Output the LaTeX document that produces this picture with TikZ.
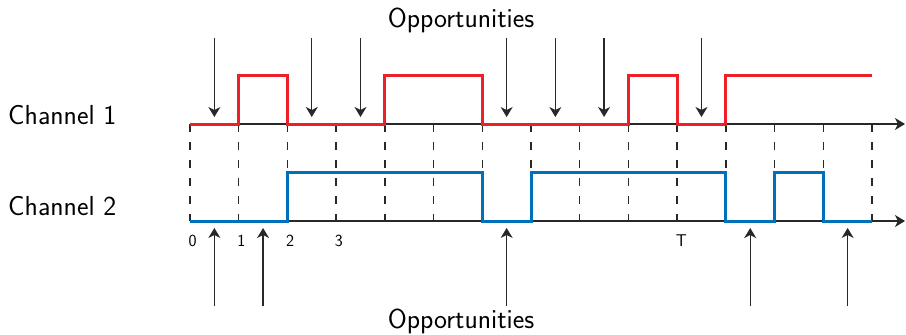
\documentclass[tikz,border=0pt]{standalone}
\usepackage{fontspec}
\usetikzlibrary{arrows.meta,calc}
\definecolor{sigred}{RGB}{237,32,40}
\definecolor{sigblue}{RGB}{0,112,186}
\definecolor{arrowgray}{RGB}{40,40,40}
\tikzset{
  axisline/.style={line width=1.3pt, draw=arrowgray, -{Stealth[length=10pt,width=12pt,inset=3pt]}},
  gridline/.style={line width=1.4pt, draw=arrowgray, dash pattern=on 8pt off 10pt},
  sigone/.style={line width=3pt, draw=sigred},
  sigtwo/.style={line width=3pt, draw=sigblue},
  opparrow/.style={line width=1.3pt, draw=arrowgray, -{Stealth[length=10pt,width=12pt,inset=3pt]}},
  bigtext/.style={font=\sffamily\fontsize{27.5}{33}\selectfont, inner sep=0pt},
  ticktext/.style={font=\sffamily\fontsize{17}{20}\selectfont, inner sep=0pt, anchor=base west},
}
\begin{document}
\begin{tikzpicture}[x=1pt,y=-1pt]
  \useasboundingbox (0,0) rectangle (906,335);
  \def\u{48.714}
  % tick positions on both axes
  \foreach \i in {0,...,14} {
    \coordinate (a\i) at ({190+\i*\u},124);
    \coordinate (b\i) at ({190+\i*\u},221);
  }
  \coordinate (aend) at (905,124);
  \coordinate (bend) at (905,221);
  % dashed slot separators
  \foreach \i in {0,...,14} \draw[gridline] (a\i) -- (b\i);
  % time axes
  \draw[axisline] (a0) -- (aend);
  \draw[axisline] (b0) -- (bend);
  % channel 1 occupancy
  \draw[sigone] (a0) -| ($(a1)+(0,-49)$) -| (a2) -| ($(a4)+(0,-49)$) -| (a6)
    -| ($(a9)+(0,-49)$) -| (a10) -| ($(a11)+(0,-49)$) -- ($(a14)+(0,-49)$);
  % channel 2 occupancy
  \draw[sigtwo] (b0) -| ($(b2)+(0,-49)$) -| (b6) -| ($(b7)+(0,-49)$) -| (b11)
    -| ($(b12)+(0,-49)$) -| (b13) -- (b14);
  % labels
  \node[bigtext, anchor=base west] (ch1) at (8,124) {Channel 1};
  \node[bigtext, anchor=base west] (ch2) at (8,215) {Channel 2};
  \node[bigtext, anchor=base] (opptop) at (461,27) {Opportunities};
  \node[bigtext, anchor=base] (oppbot) at (461,328) {Opportunities};
  \node[ticktext] (t0) at (188.5,246) {0};
  \node[ticktext] (t1) at ({188.5+\u},246) {1};
  \node[ticktext] (t2) at ({188.5+2*\u},246) {2};
  \node[ticktext] (t3) at ({188.5+3*\u},246) {3};
  \node[ticktext] (tT) at ({188.5+10*\u},246) {T};
  % sensing opportunities on channel 1 (middle of slot k)
  \foreach \k in {0,2,3,6,7,8,10} {
    \coordinate (ts\k) at ({190+(\k+0.5)*\u},38);
    \coordinate (te\k) at ({190+(\k+0.5)*\u},117);
    \draw[opparrow] (ts\k) -- (te\k);
  }
  % sensing opportunities on channel 2 (middle of slot k)
  \foreach \k in {0,1,6,11,13} {
    \coordinate (bs\k) at ({190+(\k+0.5)*\u},306);
    \coordinate (be\k) at ({190+(\k+0.5)*\u},228);
    \draw[opparrow] (bs\k) -- (be\k);
  }
\end{tikzpicture}
\end{document}
